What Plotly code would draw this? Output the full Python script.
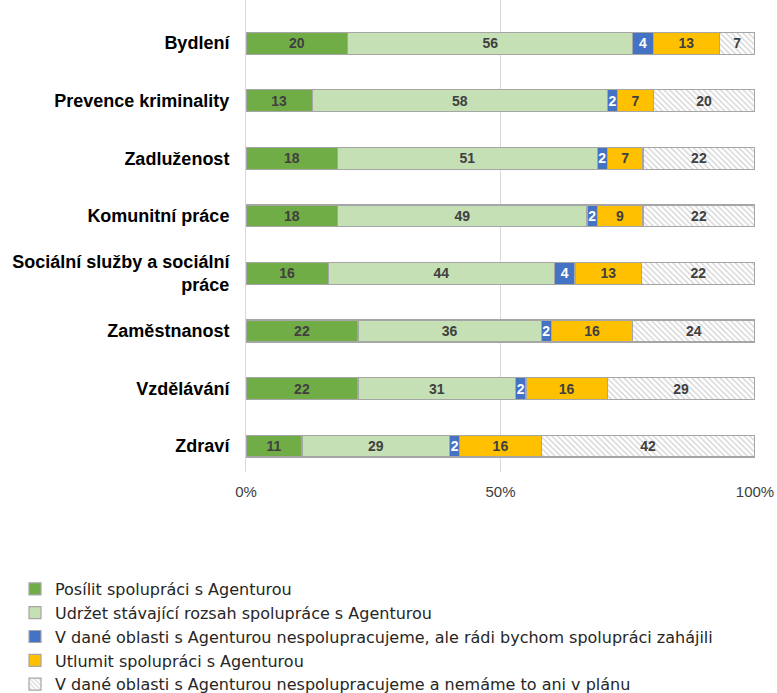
import plotly.graph_objects as go

categories = ["Bydlení", "Prevence kriminality", "Zadluženost", "Komunitní práce",
              "Sociální služby a sociální<br>práce", "Zaměstnanost", "Vzdělávání", "Zdraví"]
series_names = [
    "Posílit spolupráci s Agenturou",
    "Udržet stávající rozsah spolupráce s Agenturou",
    "V dané oblasti s Agenturou nespolupracujeme, ale rádi bychom spolupráci zahájili",
    "Utlumit spolupráci s Agenturou",
    "V dané oblasti s Agenturou nespolupracujeme a nemáme to ani v plánu",
]
posilit = [20, 13, 18, 18, 16, 22, 22, 11]
udrzet = [56, 58, 51, 49, 44, 36, 31, 29]
zahajit = [4, 2, 2, 2, 4, 2, 2, 2]
utlumit = [13, 7, 7, 9, 13, 16, 16, 16]
neplan = [7, 20, 22, 22, 22, 24, 29, 42]
tick_vals = [0, 50, 100]
tick_text = ["0%", "50%", "100%"]

series = [posilit, udrzet, zahajit, utlumit, neplan]
colors = ["#70AD47", "#C5E0B4", "#4472C4", "#FFC000", "#FFFFFF"]
text_colors = ["#404040", "#404040", "#FFFFFF", "#404040", "#404040"]

fig = go.Figure()
for i, (name, vals) in enumerate(zip(series_names, series)):
    marker = dict(color=colors[i], line=dict(color="#A6A6A6", width=1.2))
    if i == 4:
        marker["pattern"] = dict(shape="\\", fgcolor="#A0A0A0", bgcolor="#FFFFFF",
                                 size=4, solidity=0.3, fillmode="overlay")
    fig.add_trace(go.Bar(
        y=categories, x=vals, name=name, orientation="h",
        marker=marker, width=0.38,
        text=[str(v) for v in vals], textposition="inside",
        insidetextanchor="middle", textangle=0, constraintext="none",
        textfont=dict(family="Liberation Sans", size=14, color=text_colors[i], weight="bold"),
        hoverinfo="skip",
    ))

fig.update_layout(
    barmode="stack", barnorm="percent",
    width=777, height=693,
    margin=dict(l=246, r=22, t=0, b=221, autoexpand=False),
    plot_bgcolor="white", paper_bgcolor="white",
    uniformtext=dict(minsize=14, mode="show"),
    font=dict(family="Liberation Sans", color="#404040"),
    legend=dict(
        xref="container", yref="container",
        x=15 / 777, y=1 - 572 / 693, xanchor="left", yanchor="top",
        traceorder="normal",
        font=dict(family="DejaVu Sans", size=16, color="#262626"),
        itemwidth=30, bgcolor="rgba(0,0,0,0)",
    ),
    showlegend=True,
)
fig.update_xaxes(
    range=[0, 100], tickvals=tick_vals, ticktext=tick_text,
    showgrid=True, gridcolor="#D9D9D9", gridwidth=1,
    zeroline=False, showline=False,
    tickfont=dict(family="Liberation Sans", size=15, color="#404040"),
    ticks="", ticklabelstandoff=9,
)
fig.update_yaxes(
    range=[7.45, -0.75], showgrid=False,
    showline=True, linecolor="#D9D9D9", linewidth=1,
    tickfont=dict(family="Liberation Sans", size=18, color="#000000", weight="bold"),
    ticks="", ticklabelstandoff=12,
)

fig.write_html(
    "out.html",
    config={"displayModeBar": False},
    post_script="document.body.style.margin='0px';document.body.style.overflow='hidden';",
)
